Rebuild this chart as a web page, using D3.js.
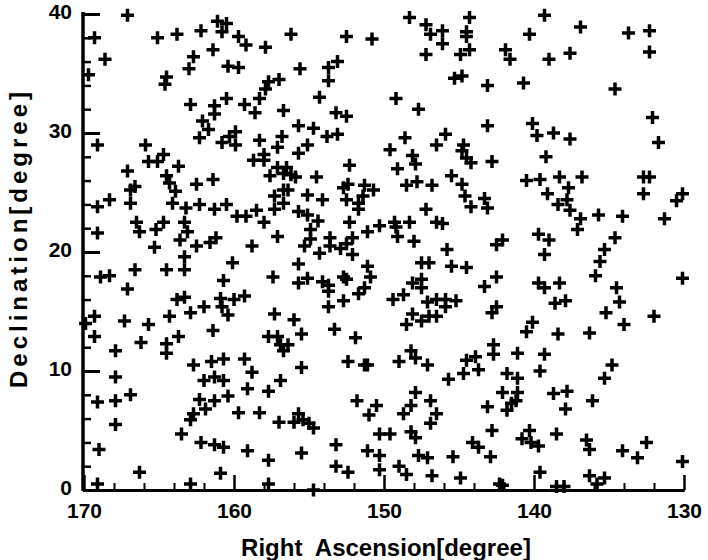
<!DOCTYPE html>
<html><head><meta charset="utf-8">
<script src="https://cdn.jsdelivr.net/npm/d3@7"></script>
<style>
body{margin:0;background:#fff;}
svg text{font-family:"Liberation Sans",Arial,Helvetica,sans-serif;font-weight:bold;fill:#000;}
</style></head>
<body><svg id="c" width="708" height="560"></svg>
<script>
// Right Ascension (deg) and Declination (deg) of each source
const ra = [167.1,169.3,165.1,163.8,162.2,161.1,160.5,160.8,168.6,161.4,162.7,163.0,160.4,169.7,164.5,164.6,162.9,161.3,161.3,160.5,162.1,161.7,162.3,160.8,160.3,169.1,165.9,164.7,165.7,165.1,163.7,167.1,
159.7,159.2,157.9,156.2,152.5,150.8,159.7,155.6,153.1,153.7,153.7,157.0,157.7,157.9,158.3,154.3,159.3,158.6,156.7,153.2,152.5,155.7,154.7,153.8,153.1,159.9,159.9,158.3,156.8,157.1,155.1,155.7,158.7,158.0,158.0,157.1,156.5,152.3,
148.3,144.3,147.2,146.9,146.1,146.1,144.5,144.5,147.2,144.9,144.3,141.9,141.6,140.3,145.3,144.8,143.1,140.7,149.2,147.7,143.1,140.1,139.8,148.6,145.9,146.5,149.6,148.1,147.9,149.1,144.7,144.8,144.5,144.2,142.8,
139.3,136.9,133.7,132.3,132.3,137.6,139.0,134.6,132.1,131.7,138.7,137.6,139.2,
164.5,164.3,163.9,162.5,161.4,166.6,166.9,166.9,168.3,169.1,164.1,163.2,162.3,161.3,160.5,166.5,166.3,164.7,165.2,163.3,163.1,169.1,163.6,162.5,161.6,161.2,165.3,163.3,160.1,166.6,168.9,168.3,164.5,163.3,160.7,167.1,163.8,163.3,160.9,160.8,162.0,162.9,164.3,167.3,169.3,169.9,165.7,161.4,160.4,
157.6,156.7,156.2,155.9,154.5,157.3,156.7,156.4,156.7,157.3,155.1,154.1,152.7,152.4,152.5,151.3,150.7,151.4,151.7,151.7,158.5,159.8,159.2,158.0,155.7,155.1,154.4,154.9,154.9,152.3,151.1,150.3,157.1,158.8,155.3,153.6,153.6,152.9,152.5,152.1,154.3,152.1,155.7,151.1,150.9,157.4,155.7,155.1,154.1,153.7,153.7,152.7,152.5,151.3,151.7,160.0,159.3,152.7,153.7,157.3,156.0,153.3,
148.5,147.8,146.8,145.5,144.8,144.6,144.2,143.3,143.1,140.5,147.2,149.3,149.2,148.3,146.5,146.1,149.1,148.0,145.8,142.5,142.1,139.7,147.5,147.0,145.5,144.5,148.1,147.5,147.5,143.3,142.5,139.7,149.4,148.7,147.1,146.5,145.9,145.2,145.9,148.1,147.5,147.0,146.5,148.5,142.8,142.5,140.1,140.5,
138.3,136.8,132.7,132.3,137.7,137.8,139.1,138.4,137.6,132.7,130.1,130.5,135.7,134.1,131.3,136.9,137.1,139.0,139.3,134.6,135.3,135.6,135.9,130.1,138.3,139.3,134.5,138.6,137.9,134.3,135.2,132.0,134.0,139.6,
169.3,166.2,164.5,164.5,163.7,167.9,167.9,162.7,161.5,160.7,162.0,161.3,160.7,169.1,167.9,166.9,162.3,161.3,160.4,161.9,162.7,162.9,167.9,163.5,162.2,161.3,160.7,169.0,166.3,160.9,169.1,162.9,
157.7,157.1,156.9,156.4,156.7,155.5,151.9,159.3,158.8,155.5,156.9,159.1,157.7,152.4,151.3,151.1,159.7,158.3,157.0,156.0,155.7,155.4,155.0,154.7,151.8,150.5,151.0,150.3,159.1,157.7,155.5,153.2,151.1,150.3,153.2,152.4,150.3,157.7,154.7,
149.0,148.2,147.9,147.1,142.7,142.7,141.1,144.5,143.9,143.7,144.7,145.7,141.8,141.1,139.6,147.9,146.9,148.2,148.7,146.5,146.9,142.1,141.1,141.2,141.5,141.8,143.1,142.8,149.6,148.2,147.9,144.1,143.7,140.3,140.8,140.2,147.7,147.1,145.4,142.9,149.0,148.5,146.8,144.9,142.3,142.1,
138.4,136.3,139.3,134.8,135.3,138.7,137.8,137.9,136.1,138.5,139.7,136.5,136.3,134.1,133.1,132.5,130.1,139.6,136.3,135.3,135.8,138.5,138.0];
const dec = [39.9,38.0,38.0,38.3,38.6,39.4,39.2,38.5,36.2,37.0,36.4,35.4,35.6,34.9,34.7,34.1,32.4,32.3,31.6,32.9,31.0,30.3,29.6,29.2,29.7,29.0,29.0,28.2,27.6,27.6,27.2,26.8,
38.1,37.4,37.2,38.3,38.1,37.9,35.5,35.4,36.0,35.5,34.4,34.5,34.3,33.7,32.9,33.0,32.4,31.7,31.9,31.7,31.4,30.6,30.4,29.7,29.9,30.1,29.0,29.4,29.7,28.8,29.0,28.3,27.7,28.2,27.7,27.1,27.1,27.3,
39.7,39.7,39.1,38.3,38.6,37.5,38.5,38.1,36.6,36.6,37.0,37.0,36.2,38.3,34.6,34.8,34.0,34.2,32.9,32.0,30.6,30.8,29.8,29.6,29.9,29.0,28.6,28.1,27.4,27.0,29.0,28.5,27.9,27.5,27.6,
39.9,38.9,38.4,38.6,36.8,36.7,36.2,33.7,31.3,29.2,30.0,29.5,28.0,
26.4,25.8,25.1,25.7,26.1,25.5,25.2,24.1,24.4,23.8,24.1,23.7,24.0,23.6,24.0,22.5,21.7,22.5,21.9,22.5,21.7,21.6,21.0,20.5,20.8,21.2,20.4,19.6,19.1,18.5,17.9,18.0,18.5,18.5,17.6,16.9,16.0,16.2,16.1,15.4,15.4,14.9,14.6,14.2,14.6,14.0,13.9,13.4,14.7,
26.4,26.6,26.5,26.3,26.3,24.7,25.2,25.2,24.1,23.6,24.8,24.4,25.4,25.7,24.4,25.6,25.2,24.7,24.1,23.6,23.5,23.0,23.0,22.5,23.4,23.1,22.6,21.9,21.1,22.5,21.7,22.2,21.3,20.5,20.5,21.2,20.5,20.3,20.7,21.2,19.9,19.8,19.0,18.8,17.9,17.9,17.4,17.8,17.5,17.2,16.7,17.9,17.7,17.0,16.5,16.0,16.3,15.9,15.4,14.8,14.3,13.5,
25.6,25.9,25.6,26.4,25.7,24.7,23.8,24.5,23.7,26.0,23.6,22.5,22.1,22.5,22.5,22.4,21.3,20.9,20.2,20.6,21.0,21.5,19.1,19.1,18.8,18.7,17.4,17.7,17.0,17.1,17.9,17.4,16.0,16.4,15.8,16.0,16.0,15.9,15.4,14.8,14.2,14.6,14.6,13.9,14.9,15.4,14.1,13.3,
26.3,26.3,26.3,26.3,25.4,24.4,24.9,24.0,23.5,24.9,24.9,24.3,23.1,23.0,22.8,22.8,21.9,21.0,19.8,21.2,20.2,19.2,18.0,17.8,17.4,17.0,17.0,15.7,15.9,15.8,14.9,14.6,13.9,26.1,
12.9,12.4,12.3,11.5,12.9,11.7,9.5,10.5,10.8,11.0,9.2,9.5,9.2,7.4,7.5,8.0,7.6,7.5,7.9,6.8,6.4,5.9,5.5,4.7,4.0,3.8,3.6,3.4,1.5,1.4,0.5,0.5,
12.9,12.9,12.2,12.2,11.7,13.1,12.8,11.0,9.9,10.3,9.2,8.5,8.3,10.8,10.5,10.5,6.5,6.5,5.7,5.7,6.4,5.9,5.6,5.2,7.5,7.1,6.3,4.7,3.3,2.5,3.1,3.8,3.3,2.9,2.0,1.5,1.7,0.5,0.0,
10.8,11.7,11.1,10.5,12.2,11.4,11.5,10.9,11.2,10.1,9.8,9.3,9.8,9.4,10.0,8.2,7.5,7.1,6.4,6.4,5.6,8.2,8.2,7.5,7.3,6.7,7.0,5.0,4.7,4.9,4.4,4.0,3.6,5.0,4.3,4.0,2.9,2.7,2.8,2.8,2.0,1.3,1.2,1.0,0.5,0.4,
13.1,13.2,11.4,10.5,9.4,8.1,8.3,6.8,7.5,4.7,3.7,4.2,3.4,3.3,2.7,4.0,2.4,1.5,1.2,1.0,0.5,0.3,0.3];

const xMajor = [170,160,150,140,130];
const xLabels = ["170","160","150","140","130"];
const yMajor = [0,10,20,30,40];
const yLabels = ["0","10","20","30","40"];
const xMinor = d3.range(130,171,2).filter(v => v%10 !== 0);
const yMinor = d3.range(0,41,2).filter(v => v%10 !== 0);

const svg = d3.select("#c");
const x = d3.scaleLinear().domain([170,130]).range([84,684]);
const y = d3.scaleLinear().domain([0,40]).range([490,14]);

// points
const pts = ra.map((r,i)=>({r, d:dec[i]}));
svg.append("g").selectAll("path").data(pts).enter().append("path")
  .attr("transform", p => `translate(${x(p.r)},${y(p.d)})`)
  .attr("d","M-6.5,0H6.5M0,-6.5V6.5")
  .attr("stroke","#000").attr("stroke-width",3.5).attr("fill","none");

// axes
function style(g, sw){
  g.select(".domain").attr("stroke","#000").attr("stroke-width",3);
  g.selectAll(".tick line").attr("stroke","#000").attr("stroke-width",sw);
}
const gx = svg.append("g").attr("transform","translate(0,490)")
  .call(d3.axisBottom(x).tickValues(xMajor).tickFormat((d,i)=>xLabels[i]).tickSizeInner(-15).tickSizeOuter(0).tickPadding(13));
style(gx,2.5);
gx.selectAll("text").attr("font-size",21).attr("dy","0.71em");
const gxm = svg.append("g").attr("transform","translate(0,490)")
  .call(d3.axisBottom(x).tickValues(xMinor).tickFormat("").tickSizeInner(-7).tickSizeOuter(0));
style(gxm,2);

const gy = svg.append("g").attr("transform","translate(83,0)")
  .call(d3.axisLeft(y).tickValues(yMajor).tickFormat((d,i)=>yLabels[i]).tickSizeInner(-17).tickSizeOuter(0).tickPadding(11));
style(gy,3);
gy.selectAll("text").attr("font-size",21).attr("dy","0.22em");
const gym = svg.append("g").attr("transform","translate(83,0)")
  .call(d3.axisLeft(y).tickValues(yMinor).tickFormat("").tickSizeInner(-8).tickSizeOuter(0));
style(gym,2.5);
gy.select(".domain").attr("d","M0,491V12");
gym.select(".domain").attr("d","M0,491V12");

svg.append("text").attr("x",386).attr("y",556).attr("text-anchor","middle")
  .attr("font-size",24).attr("xml:space","preserve").style("white-space","pre").text("Right  Ascension[degree]");
svg.append("text").attr("transform","translate(27,238) rotate(-90)").attr("text-anchor","middle")
  .attr("font-size",24).attr("letter-spacing",4).text("Declination[degree]");
</script></body></html>
